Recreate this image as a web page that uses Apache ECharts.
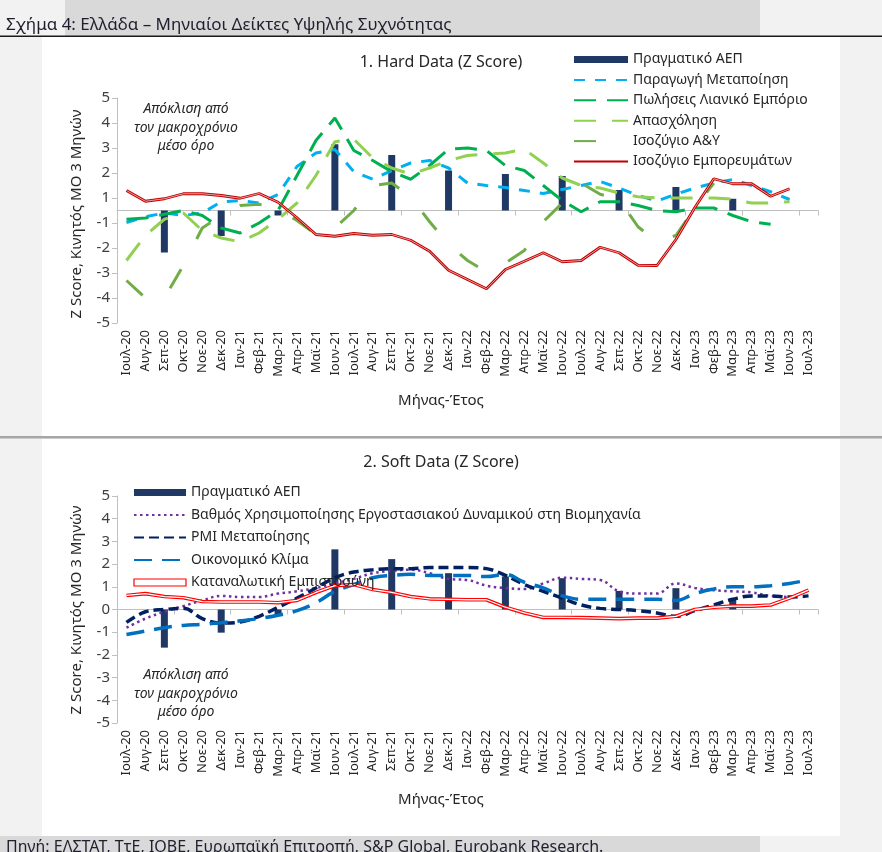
<!DOCTYPE html>
<html><head><meta charset="utf-8">
<script src="https://cdn.jsdelivr.net/npm/echarts@6/dist/echarts.min.js"></script>
<style>html,body{margin:0;padding:0;background:#f2f2f2;}#c{width:882px;height:852px;}</style>
</head><body><div id="c"></div>
<script>
// ---------- DATA ----------
const categories = ['Ιουλ-20','Αυγ-20','Σεπ-20','Οκτ-20','Νοε-20','Δεκ-20','Ιαν-21','Φεβ-21','Μαρ-21','Απρ-21','Μαϊ-21','Ιουν-21','Ιουλ-21','Αυγ-21','Σεπ-21','Οκτ-21','Νοε-21','Δεκ-21','Ιαν-22','Φεβ-22','Μαρ-22','Απρ-22','Μαϊ-22','Ιουν-22','Ιουλ-22','Αυγ-22','Σεπ-22','Οκτ-22','Νοε-22','Δεκ-22','Ιαν-23','Φεβ-23','Μαρ-23','Απρ-23','Μαϊ-23','Ιουν-23','Ιουλ-23'];

const gdpQuarters = ['Σεπ-20','Δεκ-20','Μαρ-21','Ιουν-21','Σεπ-21','Δεκ-21','Μαρ-22','Ιουν-22','Σεπ-22','Δεκ-22','Μαρ-23'];
const gdpValues   = [-1.68, -1.02, -0.2, 2.65, 2.22, 1.6, 1.46, 1.38, 0.82, 0.94, 0.47];

// Panel 1: Hard data
const hdProduction = [-0.48,-0.25,-0.1,-0.2,-0.1,0.35,0.4,0.3,0.64,1.76,2.3,2.44,1.55,1.25,1.6,1.9,2.0,1.7,1.1,1.0,0.92,0.8,0.68,0.84,1.0,1.16,0.9,0.6,0.38,0.65,0.9,1.1,1.24,1.0,0.75,0.44,null];
const hdRetail     = [-0.35,-0.3,-0.15,0.0,-0.2,-0.7,-0.9,-0.5,0.0,1.4,2.8,3.7,2.4,2.0,1.55,1.25,1.8,2.45,2.5,2.4,1.8,1.6,1.0,0.4,-0.05,0.35,0.35,0.2,0.0,-0.05,0.1,0.1,-0.2,-0.45,-0.55,null,null];
const hdEmployment = [-2.0,-1.0,-0.35,-0.1,-0.8,-1.1,-1.25,-0.9,-0.35,0.3,1.4,2.75,2.85,2.1,1.7,1.45,1.7,2.0,2.2,2.25,2.3,2.45,1.9,1.3,1.0,0.9,0.7,0.55,0.5,0.5,0.5,0.5,0.45,0.3,0.3,0.35,null];
const hdServices   = [-2.8,-3.5,-3.5,-2.2,-0.7,-0.2,0.2,0.25,0.05,-0.4,-0.95,-0.7,0.0,1.0,1.1,0.55,-0.45,-1.35,-2.0,-2.45,-2.1,-1.6,-0.45,0.3,1.1,0.65,0.45,-0.65,-1.25,-1.0,0.1,1.1,null,null,null,null,null];
const hdGoods      = [0.8,0.37,0.47,0.67,0.67,0.6,0.49,0.68,0.33,-0.29,-0.96,-1.03,-0.92,-0.99,-0.96,-1.19,-1.63,-2.39,-2.76,-3.13,-2.36,-2.03,-1.69,-2.05,-2.0,-1.47,-1.69,-2.19,-2.2,-1.16,0.12,1.27,1.07,1.07,0.57,0.87,null];

// Panel 2: Soft data
const sdCapacity = [-0.8,-0.4,-0.1,0.15,0.4,0.6,0.55,0.55,0.7,0.8,0.95,1.15,1.35,1.6,1.7,1.75,1.6,1.35,1.3,1.05,0.95,0.9,1.15,1.4,1.35,1.3,0.8,0.7,0.7,1.15,0.95,0.85,0.8,0.75,0.6,0.55,null];
const sdPMI      = [-0.57,-0.1,0.0,0.05,-0.4,-0.6,-0.55,-0.3,0.1,0.5,0.95,1.4,1.65,1.75,1.8,1.8,1.85,1.85,1.85,1.8,1.5,1.1,0.8,0.5,0.2,0.05,0.0,-0.05,-0.15,-0.3,-0.05,0.2,0.45,0.6,0.6,0.55,0.6];
const sdClimate  = [-1.1,-0.95,-0.8,-0.7,-0.65,-0.58,-0.5,-0.4,-0.25,-0.05,0.3,0.8,1.1,1.4,1.5,1.55,1.5,1.5,1.5,1.45,1.55,1.2,0.95,0.6,0.45,0.45,0.45,0.45,0.45,0.4,0.7,0.9,1.0,1.0,1.05,1.15,1.3];
const sdConsumer = [0.62,0.7,0.57,0.52,0.35,0.33,0.33,0.33,0.3,0.4,0.75,1.05,1.1,0.88,0.75,0.57,0.47,0.45,0.43,0.43,0.1,-0.15,-0.35,-0.35,-0.36,-0.38,-0.4,-0.38,-0.38,-0.3,0.0,0.1,0.15,0.15,0.2,0.5,0.85];

// Axis tick labels
const y1TickValues = [-4.5,-3.5,-2.5,-1.5,-0.5,0.5,1.5,2.5,3.5,4.5];
const y1TickLabels = ['-5','-4','-3','-2','-1','1','2','3','4','5'];

// ---------- BUILD ----------
const FONT = '"Noto Sans", "DejaVu Sans", sans-serif';
const gdpMonthly = categories.map(c => { const i = gdpQuarters.indexOf(c); return i < 0 ? null : gdpValues[i]; });

const chart = echarts.init(document.getElementById('c'), null, {renderer:'canvas'});

const axisGrey = '#bfbfbf';
function catAxes(gi){
  return [
    {type:'category', gridIndex:gi, data:categories, position:'bottom',
     axisLine:{show:true, onZero:true, lineStyle:{color:axisGrey, width:1}},
     axisTick:{show:true, length:5, lineStyle:{color:axisGrey}},
     axisLabel:{show:false}, splitLine:{show:false}},
    {type:'category', gridIndex:gi, data:categories, position:'bottom',
     axisLine:{show:false, onZero:false}, axisTick:{show:false},
     axisLabel:{show:true, interval:0, rotate:90, fontSize:13, color:'#262626', margin:7, fontFamily:FONT},
     splitLine:{show:false}}
  ];
}
function line(name, data, xi, yi, color, width, type, extra){
  return Object.assign({type:'line', name, data, xAxisIndex:xi, yAxisIndex:yi, symbol:'none', showSymbol:false,
    lineStyle:{color, width, type, cap:'butt'}, itemStyle:{color}, emphasis:{disabled:true}, animation:false}, extra||{});
}
const noDot = {opacity:0};

const option = {
  animation:false,
  textStyle:{fontFamily:FONT},
  graphic:[
    {type:'rect', z:0, silent:true, shape:{x:0,y:0,width:882,height:852}, style:{fill:'#f2f2f2'}},
    {type:'rect', z:0, silent:true, shape:{x:65,y:0,width:695,height:36}, style:{fill:'#d9d9d9'}},
    {type:'rect', z:0, silent:true, shape:{x:42,y:37,width:798,height:399}, style:{fill:'#ffffff'}},
    {type:'rect', z:0, silent:true, shape:{x:42,y:439,width:798,height:397}, style:{fill:'#ffffff'}},
    {type:'rect', z:0, silent:true, shape:{x:0,y:35.5,width:882,height:1.5}, style:{fill:'#1a1a1a'}},
    {type:'rect', z:0, silent:true, shape:{x:0,y:436,width:882,height:2.5}, style:{fill:'#a6a6a6'}},
    {type:'rect', z:0, silent:true, shape:{x:0,y:836,width:760,height:16}, style:{fill:'#d9d9d9'}},
    {type:'text', z:10, x:6, y:25, style:{text:'Σχήμα 4: Ελλάδα – Μηνιαίοι Δείκτες Υψηλής Συχνότητας', font:'17px '+FONT, fill:'#1f1f2e', textVerticalAlign:'middle'}},
    {type:'text', z:10, x:6, y:847, style:{text:'Πηγή: ΕΛΣΤΑΤ, ΤτΕ, ΙΟΒΕ, Ευρωπαϊκή Επιτροπή, S&P Global, Eurobank Research.', font:'16px '+FONT, fill:'#1f1f2e', textVerticalAlign:'middle'}},
    {type:'text', z:10, x:441, y:62, style:{text:'1. Hard Data (Z Score)', font:'16px '+FONT, fill:'#262626', textAlign:'center', textVerticalAlign:'middle'}},
    {type:'text', z:10, x:441, y:462, style:{text:'2. Soft Data (Z Score)', font:'16px '+FONT, fill:'#262626', textAlign:'center', textVerticalAlign:'middle'}},
    {type:'text', z:10, x:77, y:214, rotation:Math.PI/2, style:{text:'Z Score, Κινητός ΜΟ 3 Μηνών', font:'15px '+FONT, fill:'#262626', textAlign:'center', textVerticalAlign:'middle'}},
    {type:'text', z:10, x:77, y:610, rotation:Math.PI/2, style:{text:'Z Score, Κινητός ΜΟ 3 Μηνών', font:'15px '+FONT, fill:'#262626', textAlign:'center', textVerticalAlign:'middle'}},
    {type:'text', z:10, x:441, y:401, style:{text:'Μήνας-Έτος', font:'15px '+FONT, fill:'#262626', textAlign:'center', textVerticalAlign:'middle'}},
    {type:'text', z:10, x:441, y:800, style:{text:'Μήνας-Έτος', font:'15px '+FONT, fill:'#262626', textAlign:'center', textVerticalAlign:'middle'}},
    {type:'text', z:10, x:186, y:128, style:{text:'Απόκλιση από\nτον μακροχρόνιο\nμέσο όρο', font:'italic 14px '+FONT, lineHeight:18.5, fill:'#262626', textAlign:'center', textVerticalAlign:'middle'}},
    {type:'text', z:10, x:186, y:694, style:{text:'Απόκλιση από\nτον μακροχρόνιο\nμέσο όρο', font:'italic 14px '+FONT, lineHeight:18.5, fill:'#262626', textAlign:'center', textVerticalAlign:'middle'}}
  ],
  legend:[
    {orient:'vertical', left:573, top:51.5, padding:0, itemWidth:54, itemHeight:7, itemGap:4.4, selectedMode:false,
     textStyle:{fontSize:14, color:'#262626', lineHeight:16, fontFamily:FONT},
     data:[{name:'Πραγματικό ΑΕΠ', icon:'rect'},
           {name:'Παραγωγή Μεταποίηση', itemStyle:noDot},
           {name:'Πωλήσεις Λιανικό Εμπόριο', itemStyle:noDot},
           {name:'Απασχόληση', itemStyle:noDot},
           {name:'Ισοζύγιο Α&Υ', itemStyle:noDot},
           {name:'Ισοζύγιο Εμπορευμάτων', itemStyle:noDot}]},
    {orient:'vertical', left:133, top:484.5, padding:0, itemWidth:52, itemHeight:7, itemGap:6.5, selectedMode:false,
     textStyle:{fontSize:14, color:'#262626', lineHeight:16, fontFamily:FONT},
     data:[{name:'Πραγματικό ΑΕΠ', icon:'rect'},
           {name:'Βαθμός Χρησιμοποίησης Εργοστασιακού Δυναμικού στη Βιομηχανία', itemStyle:noDot},
           {name:'PMI Μεταποίησης', itemStyle:noDot},
           {name:'Οικονομικό Κλίμα', itemStyle:noDot},
           {name:'Καταναλωτική Εμπιστοσύνη', icon:'rect', itemStyle:{color:'#ffffff', borderColor:'#ff0000', borderWidth:1.2}}]}
  ],
  grid:[
    {left:117, top:98, width:701, height:225},
    {left:117, top:496, width:701, height:227}
  ],
  xAxis:[...catAxes(0), ...catAxes(1)],
  yAxis:[
    {type:'value', gridIndex:0, min:-4.5, max:4.5, interval:1,
     axisLine:{show:true, onZero:false, lineStyle:{color:axisGrey}},
     axisTick:{show:true, length:5, customValues:y1TickValues, lineStyle:{color:axisGrey}},
     axisLabel:{customValues:y1TickValues, fontSize:15, color:'#404040', margin:7, fontFamily:FONT,
       formatter:v => { const i = y1TickValues.findIndex(t => Math.abs(t - v) < 1e-6); return i < 0 ? '' : y1TickLabels[i]; }},
     splitLine:{show:false}},
    {type:'value', gridIndex:1, min:-5, max:5, interval:1,
     axisLine:{show:true, onZero:false, lineStyle:{color:axisGrey}},
     axisTick:{show:true, length:5, lineStyle:{color:axisGrey}},
     axisLabel:{fontSize:15, color:'#404040', margin:7, fontFamily:FONT},
     splitLine:{show:false}}
  ],
  series:[
    // Panel 1
    {type:'bar', name:'Πραγματικό ΑΕΠ', data:gdpMonthly, xAxisIndex:0, yAxisIndex:0, barWidth:7, itemStyle:{color:'#203864'}, emphasis:{disabled:true}},
    line('Παραγωγή Μεταποίηση', hdProduction, 0, 0, '#00b0f0', 3, [11,10]),
    line('Πωλήσεις Λιανικό Εμπόριο', hdRetail, 0, 0, '#00b050', 3, [22,11]),
    line('Απασχόληση', hdEmployment, 0, 0, '#92d050', 3, [22,16]),
    line('Ισοζύγιο Α&Υ', hdServices, 0, 0, '#70ad47', 3, [22,34]),
    line('Ισοζύγιο Εμπορευμάτων', hdGoods, 0, 0, '#c00000', 2.8, 'solid'),
    line('goodsInner', hdGoods, 0, 0, '#f4b0b0', 0.9, 'solid'),
    // Panel 2
    {type:'bar', name:'Πραγματικό ΑΕΠ', data:gdpMonthly, xAxisIndex:2, yAxisIndex:1, barWidth:7, itemStyle:{color:'#203864'}, emphasis:{disabled:true}},
    line('Βαθμός Χρησιμοποίησης Εργοστασιακού Δυναμικού στη Βιομηχανία', sdCapacity, 2, 1, '#7030a0', 2.5, [2.5,3.5], {smooth:0.4}),
    line('PMI Μεταποίησης', sdPMI, 2, 1, '#002060', 3.5, [10,5], {smooth:0.4}),
    line('Οικονομικό Κλίμα', sdClimate, 2, 1, '#0070c0', 3.5, [18,10], {smooth:0.4}),
    line('Καταναλωτική Εμπιστοσύνη', sdConsumer, 2, 1, '#ff0000', 3.6, 'solid'),
    line('consumerInner', sdConsumer, 2, 1, '#ffffff', 1.3, 'solid')
  ]
};
chart.setOption(option);
</script>
</body></html>
